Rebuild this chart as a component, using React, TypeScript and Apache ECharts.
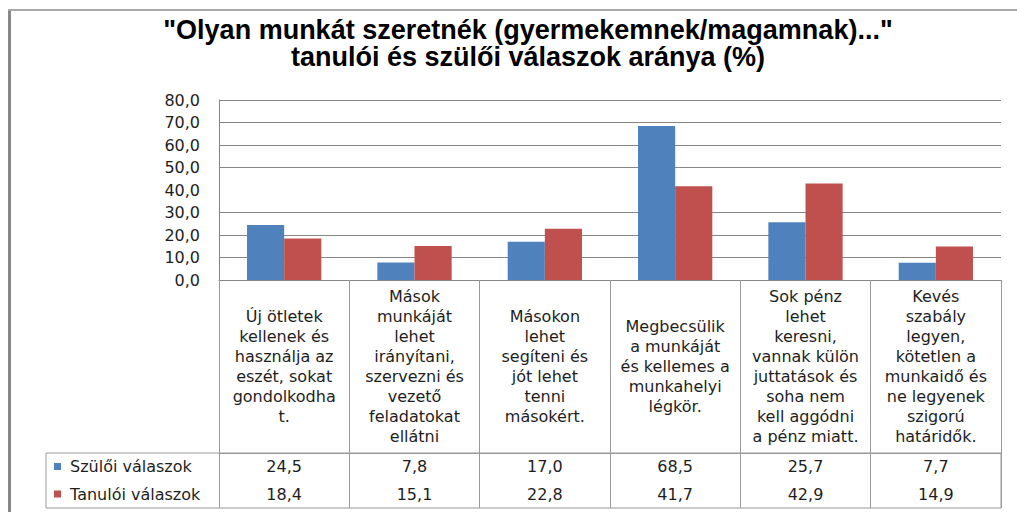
import React, { useEffect, useRef } from "react";
import * as echarts from "echarts";

const TITLE_LINES = [
  "\"Olyan munkát szeretnék (gyermekemnek/magamnak)...\"",
  "tanulói és szülői válaszok aránya (%)",
];

const CATEGORIES = [
  "Új ötletek\nkellenek és\nhasználja az\neszét, sokat\ngondolkodha\nt.",
  "Mások\nmunkáját\nlehet\nirányítani,\nszervezni és\nvezető\nfeladatokat\nellátni",
  "Másokon\nlehet\nsegíteni és\njót lehet\ntenni\nmásokért.",
  "Megbecsülik\na munkáját\nés kellemes a\nmunkahelyi\nlégkör.",
  "Sok pénz\nlehet\nkeresni,\nvannak külön\njuttatások és\nsoha nem\nkell aggódni\na pénz miatt.",
  "Kevés\nszabály\nlegyen,\nkötetlen a\nmunkaidő és\nne legyenek\nszigorú\nhatáridők.",
];

const SERIES_NAMES = ["Szülői válaszok", "Tanulói válaszok"];
const PARENTS = [24.5, 7.8, 17.0, 68.5, 25.7, 7.7];
const STUDENTS = [18.4, 15.1, 22.8, 41.7, 42.9, 14.9];

const Y_MIN = 0;
const Y_MAX = 80;
const Y_STEP = 10;
const GRID_LINES = [10, 20, 30, 50, 60, 70, 80];

const BLUE = "#4F81BD";
const RED = "#C0504D";
const GRID_COLOR = "#868686";
const TABLE_COLOR = "#9a9a9a";
const TEXT = "#1e1e1e";
const FONT = "'DejaVu Sans', Verdana, sans-serif";
const TITLE_FONT = "'Liberation Sans Narrow', 'Liberation Sans', Arial, sans-serif";

const fmt = (v: number) => v.toFixed(1).replace(".", ",");

export default function App() {
  const ref = useRef<HTMLDivElement>(null);

  useEffect(() => {
    if (!ref.current) return;
    const chart = echarts.init(ref.current, null, { renderer: "svg" });

    const gridLeft = 219;
    const gridRight = 16;
    const gridTop = 100;
    const gridBottom = 232;
    const axisY = 512 - gridBottom; // 280
    const headerH = 173;
    const rowsTop = axisY + headerH; // 453
    const rowsBottom = 508;

    const option: any = {
      animation: false,
      backgroundColor: "#ffffff",
      grid: {
        left: gridLeft,
        right: gridRight,
        top: gridTop,
        bottom: gridBottom,
        containLabel: false,
      },
      legend: {
        orient: "vertical",
        left: 54,
        top: rowsTop + 3.5,
        padding: 0,
        itemWidth: 7,
        itemHeight: 7,
        itemGap: 7.5,
        icon: "rect",
        selectedMode: false,
        textStyle: {
          fontFamily: FONT,
          fontSize: 16,
          lineHeight: 20,
          color: TEXT,
          padding: [0, 0, 0, 4],
        },
        data: SERIES_NAMES,
      },
      xAxis: [
        {
          type: "category",
          data: CATEGORIES,
          position: "bottom",
          axisLine: { show: true, lineStyle: { color: GRID_COLOR, width: 1 } },
          axisTick: {
            show: true,
            interval: 0,
            length: headerH,
            lineStyle: { color: TABLE_COLOR, width: 1 },
          },
          axisLabel: {
            interval: 0,
            margin: headerH / 2,
            verticalAlign: "middle",
            fontFamily: FONT,
            fontSize: 16,
            lineHeight: 20,
            color: TEXT,
          },
          splitLine: { show: false },
        },
        {
          type: "category",
          data: CATEGORIES,
          position: "bottom",
          offset: headerH,
          axisLine: { show: true, lineStyle: { color: TABLE_COLOR, width: 1 } },
          axisTick: {
            show: true,
            interval: 0,
            length: rowsBottom - rowsTop,
            lineStyle: { color: TABLE_COLOR, width: 1 },
          },
          axisLabel: {
            interval: 0,
            margin: 13.5,
            verticalAlign: "middle",
            fontFamily: FONT,
            fontSize: 16,
            color: TEXT,
            formatter: (_v: string, i: number) => fmt(PARENTS[i]),
          },
        },
        {
          type: "category",
          data: CATEGORIES,
          position: "bottom",
          offset: headerH,
          axisLine: { show: false },
          axisTick: { show: false },
          axisLabel: {
            interval: 0,
            margin: 41,
            verticalAlign: "middle",
            fontFamily: FONT,
            fontSize: 16,
            color: TEXT,
            formatter: (_v: string, i: number) => fmt(STUDENTS[i]),
          },
        },
      ],
      yAxis: {
        type: "value",
        min: Y_MIN,
        max: Y_MAX,
        interval: Y_STEP,
        axisLine: { show: true, lineStyle: { color: GRID_COLOR, width: 1 } },
        axisTick: { show: false },
        splitLine: { show: false },
        axisLabel: {
          margin: 19,
          fontFamily: FONT,
          fontSize: 16,
          color: TEXT,
          formatter: (v: number) => fmt(v),
        },
      },
      series: [
        {
          name: SERIES_NAMES[0],
          type: "bar",
          data: PARENTS,
          xAxisIndex: 0,
          barGap: "0%",
          barCategoryGap: "43%",
          itemStyle: { color: BLUE },
          z: 3,
          markLine: {
            silent: true,
            z: 1,
            symbol: ["none", "none"],
            label: { show: false },
            lineStyle: { color: GRID_COLOR, width: 1, type: "solid" },
            emphasis: { disabled: true },
            data: GRID_LINES.map((v) => ({ yAxis: v })),
          },
        },
        {
          name: SERIES_NAMES[1],
          type: "bar",
          data: STUDENTS,
          xAxisIndex: 0,
          barGap: "0%",
          barCategoryGap: "43%",
          itemStyle: { color: RED },
          z: 3,
        },
      ],
      graphic: [
        {
          type: "rect",
          shape: { x: 8, y: 9, width: 3, height: 503 },
          style: { fill: "#888888" },
          silent: true,
        },
        {
          type: "rect",
          shape: { x: 8, y: 9, width: 1009, height: 2 },
          style: { fill: "#a8a8a8" },
          silent: true,
        },
        {
          type: "rect",
          shape: { x: 46, y: rowsTop, width: 1017 - gridRight - 46, height: rowsBottom - rowsTop },
          style: { fill: "none", stroke: TABLE_COLOR, lineWidth: 1 },
          silent: true,
        },
        {
          type: "text",
          x: 528,
          y: 16,
          style: {
            text: TITLE_LINES.join("\n"),
            textAlign: "center",
            textVerticalAlign: "top",
            fontFamily: TITLE_FONT,
            fontWeight: "bold",
            fontSize: 27,
            lineHeight: 27,
            fill: "#000000",
          },
          silent: true,
        },
      ],
    };

    chart.setOption(option);
    return () => chart.dispose();
  }, []);

  return (
    <div
      ref={ref}
      style={{ position: "absolute", left: 0, top: 0, width: 1017, height: 512, background: "#fff" }}
    />
  );
}
